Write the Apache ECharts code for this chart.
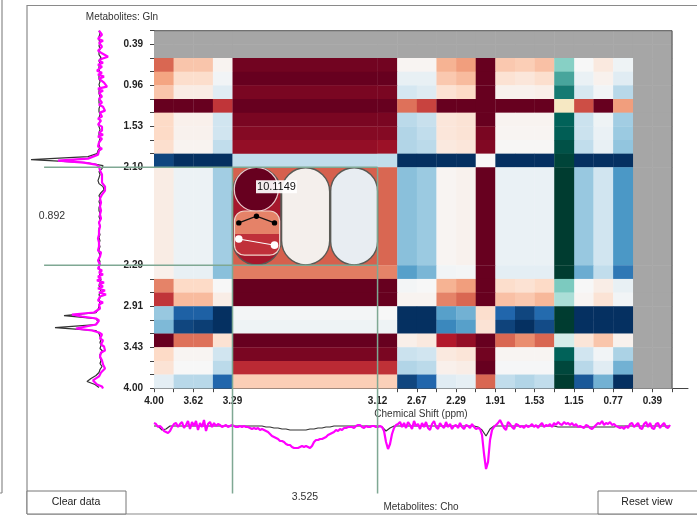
<!DOCTYPE html>
<html><head><meta charset="utf-8">
<style>html,body{margin:0;padding:0;background:#fff}#c{width:697px;height:515px}</style>
<script src="https://cdn.jsdelivr.net/npm/echarts@6/dist/echarts.min.js"></script>
</head><body><div id="c"></div>
<script>
// Track widths of the heat-map columns and rows (one bin = 1; the expanded bin is wider)
const colSpans = [1,1,1,1,7.39,1,1,1,1,1,1,1,1,1,1,1,1,1,1,1];
const rowSpans = [1,1,1,1,1,1,1,1,1,1,7.17,1,1,1,1,1,1,1,1,1];
const tealCol = 14;
const noDataCols = [18,19];
const noDataRows = [0,1];
// tick label -> index of the bin edge it sits on
const xTickLabels = {0:'4.00',2:'3.62',4:'3.29',5:'3.12',7:'2.67',9:'2.29',11:'1.91',13:'1.53',15:'1.15',17:'0.77',19:'0.39'};
const yTickLabels = {1:'0.39',4:'0.96',7:'1.53',10:'2.10',11:'2.29',14:'2.91',17:'3.43',20:'4.00'};
// Correlation values, rows r2..r19, columns c0..c17 (column 14 uses the teal scale)
const r2  = [.58,.28,.28,.03,.97,.97,.02,.02,.35,.42,1,.27,.25,.3,.38,0,.1,-.05];
const r3  = [.4,.18,.18,-.03,1,1,-.08,-.08,.27,.32,1,.15,.12,.17,.55,-.07,.04,-.12];
const r4  = [.28,.08,.08,-.12,.95,.95,-.18,-.13,.15,.2,1,.04,.04,.06,.72,-.17,-.03,-.28];
const r5  = [1,1,1,.72,1,1,.55,.68,1,1,1,1,1,1,-.2,.65,1,.42];
const r6  = [.2,.05,.05,-.2,.95,.95,-.27,-.23,.12,.14,1,.03,.03,.03,.82,-.22,-.05,-.35];
const r7  = [.2,.04,.04,-.2,.92,.92,-.3,-.25,.12,.14,.95,.02,.02,.02,.84,-.22,-.07,-.37];
const r8  = [.17,.03,.03,-.25,.88,.86,-.3,-.27,.1,.12,.93,.01,.01,.01,.9,-.25,-.08,-.4];
const r9  = [-.92,-1,-1,-1,-.25,-.25,-1,-1,-1,-1,0,-1,-1,-1,.96,-1,-1,-1];
const r10 = [.08,-.06,-.06,-.35,.6,.58,-.42,-.37,.02,.04,1,-.07,-.07,-.07,1,-.38,-.2,-.58];
const r11 = [.05,-.08,-.08,-.42,.52,.5,-.55,-.46,-.03,-.02,1,-.1,-.1,-.1,1,-.5,-.25,-.72];
const r12 = [.5,.2,.2,0,1,1,-.02,0,.35,.42,1,.18,.15,.2,.41,0,.07,-.08];
const r13 = [.72,.32,.32,.07,1,1,.03,.03,.5,.58,1,.3,.27,.33,.28,.02,.14,-.03];
const r14 = [-.38,-.82,-.82,-1,-.02,0,-1,-1,-.55,-.48,.17,-.8,-.92,-.78,1,-1,-1,-1];
const r15 = [-.45,-.92,-.95,-1,-.05,-.05,-1,-1,-.65,-.55,.14,-.93,-1,-.9,1,-1,-1,-1];
const r16 = [1,.55,.55,.15,1,1,.06,.1,.8,.88,1,.58,.47,.58,.14,.13,.28,.04];
const r17 = [.2,.02,.02,-.2,.95,.95,-.22,-.2,.1,.13,.97,.02,.02,.02,.82,-.2,-.03,-.32];
const r18 = [.14,0,0,-.27,.75,.73,-.3,-.27,.05,.07,1,-.01,-.01,-.01,.95,-.28,-.12,-.48];
const r19 = [-.1,-.28,-.28,-.8,.25,.24,-.92,-.8,-.12,-.09,.58,-.25,-.3,-.25,1,-.85,-.48,-1];
const heatRows = [r2,r3,r4,r5,r6,r7,r8,r9,r10,r11,r12,r13,r14,r15,r16,r17,r18,r19];
const firstHeatRow = 2;
// Side spectra: intensity read at evenly spaced positions along each axis
const leftStepFine = 0.1463, leftStep = 0.2195, bottomStepFine = 0.1019, bottomStep = 0.2038;
const leftMagenta = [1,3,-2,0,2,-3,1,3,-2,-1,2,-1,-3,-8,-2,
 1,-3,2,-2,-1,3,-2,2,-4,1,2,-4,-5,-7,2,
 -3,1,2,-2,1,-1,-2,1,-3,-2,-5,0,1,-2,2,
 -1,1,2,-2,0,-2,1,-3,2,-2,-3,1,-1,2,-2,1,0,2,3,
 12,42,16,4,
 1,-1,0,-1,-2,-1,-2,-3,
 -2,-4,-5,-6,-5,-3,-2,-1,
 0,1,-1,1,0,2,-1,1,0,
 1,-1,0,1,2,0,-1,1,0,1,-1,2,0,1,
 -1,1,0,2,-1,1,0,-1,2,1,0,-1,2,
 -2,1,-3,2,-1,3,-4,1,-3,2,-5,1,-6,0,-2,2,-3,1,-1,0,
 2,6,28,18,4,1,2,4,14,24,8,1,
 -2,-1,0,-3,-2,-1,-4,-2,-5,-1,-3,0,1,-2,-1,-3,-2,-5,-3,-1,0,1,
 4,7,7,3,-2,-3];
const leftBlack = [1,0,1,1,0,1,0,1,1,-1,1,0,1,1,0,1,1,0,1,0,1,1,0,1,1,0,1,1,0,1,0,1,1,0,1,1,0,1,1,0,2,3,12,69,14,-3,-2,1,0,1,2,1,-3,-4,-1,1,0,1,0,1,1,0,1,0,1,0,1,1,0,1,0,1,0,1,1,0,1,0,1,1,0,0,1,-1,0,1,0,-1,1,0,1,0,1,2,4,36,4,2,4,45,4,1,0,-1,0,-1,0,-3,0,0,-1,0,-2,0,1,4,9,13,5,1];
const bottomMagenta = [-3,-2,1,0,2,5,6,7,5,1,-2,-3,1,-2,-4,2,-1,-5,3,-4,0,-5,4,-3,1,-6,5,-2,-4,1,-3,
 0,-2,-1,1,0,-1,1,0,-1,0,1,1,0,1,0,1,1,2,
 3,2,3,2,4,3,4,5,6,8,10,11,12,13,15,15,16,18,19,19,21,22,22,22,21,20,21,20,21,22,20,16,14,14,13,13,12,11,9,8,7,6,4,5,3,4,2,2,1,
 1,1,2,0,-1,-1,1,2,0,1,1,0,0,1,1,0,
 1,5,16,23,18,8,2,-1,
 -2,-4,1,-3,2,-4,-1,3,-5,0,-2,3,-3,1,-4,2,4,-2,-5,1,3,-3,0,2,-4,1,-2,3,0,-1,2,-3,1,3,-1,0,2,-2,1,3,
 2,3,9,28,43,36,14,4,1,
 -1,-3,-6,-2,2,4,-4,-2,1,3,-2,-1,1,0,2,-1,1,
 0,-2,1,-1,2,-1,-3,1,-1,0,-2,1,-3,-1,-4,-2,-1,-4,-2,-3,-1,-3,0,-2,1,0,1,2,-1,0,2,3,1,-1,-3,-2,-5,-1,-3,-2,-4,-1,-2,0,1,2,1,3,0,2,-2,-3,1,-1,-3,2,3,-2,-4,1,-3,2,3,-2,-3,2,-1,-3,1,2,-1];
const bottomBlack = [0,0,4,3,0,0,0,0,0,0,0,0,0,0,0,0,0,0,0,0,0,0,0,0,0,0,0,0,1,1,2,2,3,3,4,4,4,4,4,3,3,2,2,1,1,0,0,0,0,0,0,0,0,0,0,0,0,1,5,2,0,0,0,0,0,0,0,0,0,0,0,0,0,0,0,0,0,0,0,0,0,1,4,10,3,0,0,0,0,0,0,0,0,0,0,0,0,0,0,0,0,1,1,1,1,1,1,1,1,1,1,1,1,1,1,1,0,0,0,0,0,0,0,0,0,0,0,0,0,0];

const rdBu = ['#053061','#2166ac','#4393c3','#92c5de','#d1e5f0','#f7f7f7','#fddbc7','#f4a582','#d6604d','#b2182b','#67001f'];
const teal = ['#f6e8c3','#f5f5f5','#c7eae5','#80cdc1','#35978f','#01665e','#003c30'];
const sum = (a,n)=>a.slice(0,n).reduce((s,v)=>s+v,0);
const xEdges = colSpans.map((_,i)=>sum(colSpans,i)).concat(sum(colSpans,colSpans.length));
const yEdges = rowSpans.map((_,i)=>sum(rowSpans,i)).concat(sum(rowSpans,rowSpans.length));
const xEnd = xEdges[xEdges.length-1], yEnd = yEdges[yEdges.length-1];
const labelFor = (edges,labels)=>v=>{for(const k in labels){if(Math.abs(edges[k]-v)<1e-6)return labels[k];}return '';};

const heatData=[], tealData=[];
heatRows.forEach((row,ri)=>row.forEach((v,ci)=>{(ci===tealCol?tealData:heatData).push([ci,ri+firstHeatRow,v]);}));
const greyData=[];
noDataRows.forEach(r=>colSpans.forEach((_,c)=>greyData.push([c,r,0])));
noDataCols.forEach(c=>rowSpans.forEach((_,r)=>{if(!noDataRows.includes(r))greyData.push([c,r,0]);}));

function cell(params,api){
  const c=api.value(0), r=api.value(1);
  const a=api.coord([xEdges[c],yEdges[r]]), b=api.coord([xEdges[c+1],yEdges[r+1]]);
  return {type:'rect',shape:{x:a[0],y:a[1],width:b[0]-a[0]+.3,height:b[1]-a[1]+.3},style:{fill:api.visual('color')},silent:true};
}
function greyCell(params,api){
  const c=api.value(0), r=api.value(1);
  const a=api.coord([xEdges[c],yEdges[r]]), b=api.coord([xEdges[c+1],yEdges[r+1]]);
  return {type:'rect',shape:{x:a[0],y:a[1],width:b[0]-a[0]+.5,height:b[1]-a[1]+.5},style:{fill:'#a6a6a6'},silent:true};
}
// Glyph in the expanded cell, in axis units
const pills=[[4,6.47,'#a6172c'],[6.5,8.95,'#f4efec'],[9,11.39,'#e8edf2']];
const pillTop=10.03,pillBottom=17.14;
const circle=[5.21,11.61,1.12];
const box=[4.1,6.4,13.2,14.9,16.43];
const blackDots=[[4.32,14.07],[5.22,13.58],[6.14,14.07]];
const whiteDots=[[4.32,15.25],[6.14,15.7]];
const valueLabel='10.1149', valueLabelPos=[6.24,11.42];
function glyph(params,api){
  const kids=[];
  pills.forEach(p=>{
    const a=api.coord([p[0],pillTop]),b=api.coord([p[1],pillBottom]);
    const w=b[0]-a[0],h=b[1]-a[1];
    kids.push({type:'rect',shape:{x:a[0],y:a[1],width:w,height:h,r:w/2},style:{fill:p[2],stroke:'#5a5a55',lineWidth:1.4}});
  });
  const cc=api.coord([circle[0],circle[1]]), rad=api.size([circle[2],0])[0];
  kids.push({type:'circle',shape:{cx:cc[0],cy:cc[1],r:rad},style:{fill:'#67001f',stroke:'#e9c9cc',lineWidth:1.2}});
  const tl=api.coord([box[0],box[2]]),mid=api.coord([box[1],box[3]]),br=api.coord([box[1],box[4]]);
  kids.push({type:'rect',shape:{x:tl[0],y:tl[1],width:br[0]-tl[0],height:mid[1]-tl[1],r:[10,10,0,0]},style:{fill:'#e58268'}});
  kids.push({type:'rect',shape:{x:tl[0],y:mid[1],width:br[0]-tl[0],height:br[1]-mid[1],r:[0,0,10,10]},style:{fill:'#c0303a'}});
  kids.push({type:'rect',shape:{x:tl[0],y:tl[1],width:br[0]-tl[0],height:br[1]-tl[1],r:10},style:{fill:'none',stroke:'#efd2c8',lineWidth:1.2}});
  kids.push({type:'polyline',shape:{points:blackDots.map(d=>api.coord(d))},style:{fill:'none',stroke:'#111',lineWidth:1.2}});
  blackDots.forEach(d=>{const p=api.coord(d);kids.push({type:'circle',shape:{cx:p[0],cy:p[1],r:2.7},style:{fill:'#000'}});});
  kids.push({type:'polyline',shape:{points:whiteDots.map(d=>api.coord(d))},style:{fill:'none',stroke:'#fff',lineWidth:1}});
  whiteDots.forEach(d=>{const p=api.coord(d);kids.push({type:'circle',shape:{cx:p[0],cy:p[1],r:3.8},style:{fill:'#fff'}});});
  const tp=api.coord(valueLabelPos);
  kids.push({type:'text',x:tp[0],y:tp[1],style:{text:valueLabel,fill:'#111',font:'11px "Liberation Sans"',align:'center',verticalAlign:'middle',backgroundColor:'rgba(255,255,255,.92)',padding:[1,1]}});
  return {type:'group',children:kids,silent:true};
}
// Selection guides of the expanded bin, in axis units (they run out past the plot)
const guideLeft=-5.6, guideBottom=7.7+yEnd-0;
const guideColor='#7fa893';
const guides=[[guideLeft,yEdges[10],xEdges[5],yEdges[10]],[guideLeft,yEdges[11],xEdges[5],yEdges[11]],[xEdges[4],yEdges[10],xEdges[4],guideBottom],[xEdges[5],yEdges[10],xEdges[5],guideBottom]];
function guide(params,api){
  const a=api.coord([api.value(0),api.value(1)]),b=api.coord([api.value(2),api.value(3)]);
  return {type:'line',shape:{x1:a[0],y1:a[1],x2:b[0],y2:b[1]},style:{stroke:guideColor,lineWidth:1.5},silent:true};
}
function greyBorder(params,api){
  const a=api.coord([0,0]),b=api.coord([xEnd,0]),c=api.coord([xEnd,yEnd]);
  return {type:'polyline',shape:{points:[a,b,c]},style:{fill:'none',stroke:'#555',lineWidth:1},silent:true};
}
const axisStyle={lineStyle:{color:'#444',width:1}};
const labelStyle={color:'#222',fontWeight:'bold',fontSize:10,fontFamily:'"Liberation Sans"'};
const T=(text,x,y,extra)=>({type:'text',x,y,style:Object.assign({text,fill:'#333',font:'10px "Liberation Sans"',align:'center',verticalAlign:'middle'},extra||{})});
const L=(x1,y1,x2,y2,c)=>({type:'line',shape:{x1,y1,x2,y2},style:{stroke:c||'#8a8a8a',lineWidth:1.2}});
const B=(x,y,w,h)=>({type:'rect',shape:{x,y,width:w,height:h},style:{fill:'#fff',stroke:'#777',lineWidth:1}});

const chart=echarts.init(document.getElementById('c'),null,{renderer:'canvas'});
chart.setOption({
  animation:false,
  backgroundColor:'#fff',
  grid:[
    {left:154,top:30.7,width:534,height:357.5},
    {left:30,top:30.7,width:80,height:357.5},
    {left:154,top:420,width:534,height:60}
  ],
  xAxis:[
    {gridIndex:0,type:'value',min:0,max:xEnd*534/518,
     axisLine:Object.assign({show:true,onZero:false},axisStyle),
     axisTick:Object.assign({show:true,length:4,customValues:xEdges},axisStyle),
     splitLine:{show:false},
     axisLabel:Object.assign({customValues:Object.keys(xTickLabels).map(k=>xEdges[k]),formatter:labelFor(xEdges,xTickLabels),margin:8,hideOverlap:false},labelStyle)},
    {gridIndex:1,type:'value',min:-10,max:70,inverse:true,show:false},
    {gridIndex:2,type:'value',min:0,max:xEnd*534/518,show:false}
  ],
  yAxis:[
    {gridIndex:0,type:'value',min:0,max:yEnd,inverse:true,
     axisLine:Object.assign({show:true,onZero:false},axisStyle),
     axisTick:Object.assign({show:true,length:4,customValues:yEdges},axisStyle),
     splitLine:{show:false},
     axisLabel:Object.assign({customValues:Object.keys(yTickLabels).map(k=>yEdges[k]),formatter:labelFor(yEdges,yTickLabels),margin:11,hideOverlap:false},labelStyle)},
    {gridIndex:1,type:'value',min:0,max:yEnd,inverse:true,show:false},
    {gridIndex:2,type:'value',min:-6,max:54,inverse:true,show:false}
  ],
  visualMap:[
    {show:false,type:'continuous',seriesIndex:0,dimension:2,min:-1,max:1,inRange:{color:rdBu}},
    {show:false,type:'continuous',seriesIndex:1,dimension:2,min:-.2,max:1,inRange:{color:teal}}
  ],
  series:[
    {type:'custom',name:'heat',coordinateSystem:'cartesian2d',xAxisIndex:0,yAxisIndex:0,renderItem:cell,data:heatData,encode:{x:0,y:1},z:2},
    {type:'custom',name:'heatTeal',coordinateSystem:'cartesian2d',xAxisIndex:0,yAxisIndex:0,renderItem:cell,data:tealData,encode:{x:0,y:1},z:2},
    {type:'custom',name:'noData',coordinateSystem:'cartesian2d',xAxisIndex:0,yAxisIndex:0,renderItem:greyCell,data:greyData,encode:{x:0,y:1},z:1},
    {type:'custom',name:'noDataBorder',coordinateSystem:'cartesian2d',xAxisIndex:0,yAxisIndex:0,renderItem:greyBorder,data:[[0,0]],encode:{x:0,y:1},z:3},
    {type:'custom',name:'glyph',coordinateSystem:'cartesian2d',xAxisIndex:0,yAxisIndex:0,renderItem:glyph,data:[[0,0]],encode:{x:0,y:1},z:4},
    {type:'line',name:'leftBlack',xAxisIndex:1,yAxisIndex:1,showSymbol:false,data:leftBlack.map((v,i)=>[v,i*leftStep]),lineStyle:{color:'#333',width:1.2},z:3},
    {type:'line',name:'leftMagenta',xAxisIndex:1,yAxisIndex:1,showSymbol:false,data:leftMagenta.map((v,i)=>[v,i*leftStepFine]),lineStyle:{color:'#ff00ff',width:2.2},z:4},
    {type:'line',name:'bottomBlack',xAxisIndex:2,yAxisIndex:2,showSymbol:false,data:bottomBlack.map((v,i)=>[i*bottomStep,v]),lineStyle:{color:'#333',width:1.2},z:3},
    {type:'line',name:'bottomMagenta',xAxisIndex:2,yAxisIndex:2,showSymbol:false,data:bottomMagenta.map((v,i)=>[i*bottomStepFine,v]),lineStyle:{color:'#ff00ff',width:2.2},z:4},
    {type:'custom',name:'guides',coordinateSystem:'cartesian2d',xAxisIndex:0,yAxisIndex:0,renderItem:guide,data:guides,encode:{x:[0,2],y:[1,3]},clip:false,z:6}
  ],
  graphic:{elements:[
    L(27,5.5,697,5.5),L(27,5,27,514),L(27,514,697,514),L(2,0,2,493),L(0,493,2,493),
    B(27,491,99,23),B(598,491,100,23),
    T('Clear data',76,502,{font:'10.5px "Liberation Sans"',fill:'#222'}),
    T('Reset view',647,502,{font:'10.5px "Liberation Sans"',fill:'#222'}),
    T('Metabolites: Gln',122,17),
    T('0.892',52,216,{font:'10.5px "Liberation Sans"'}),
    T('3.525',305,497,{font:'10.5px "Liberation Sans"'}),
    T('Metabolites: Cho',421,507),
    T('Chemical Shift (ppm)',421,414)
  ]}
});
</script></body></html>
